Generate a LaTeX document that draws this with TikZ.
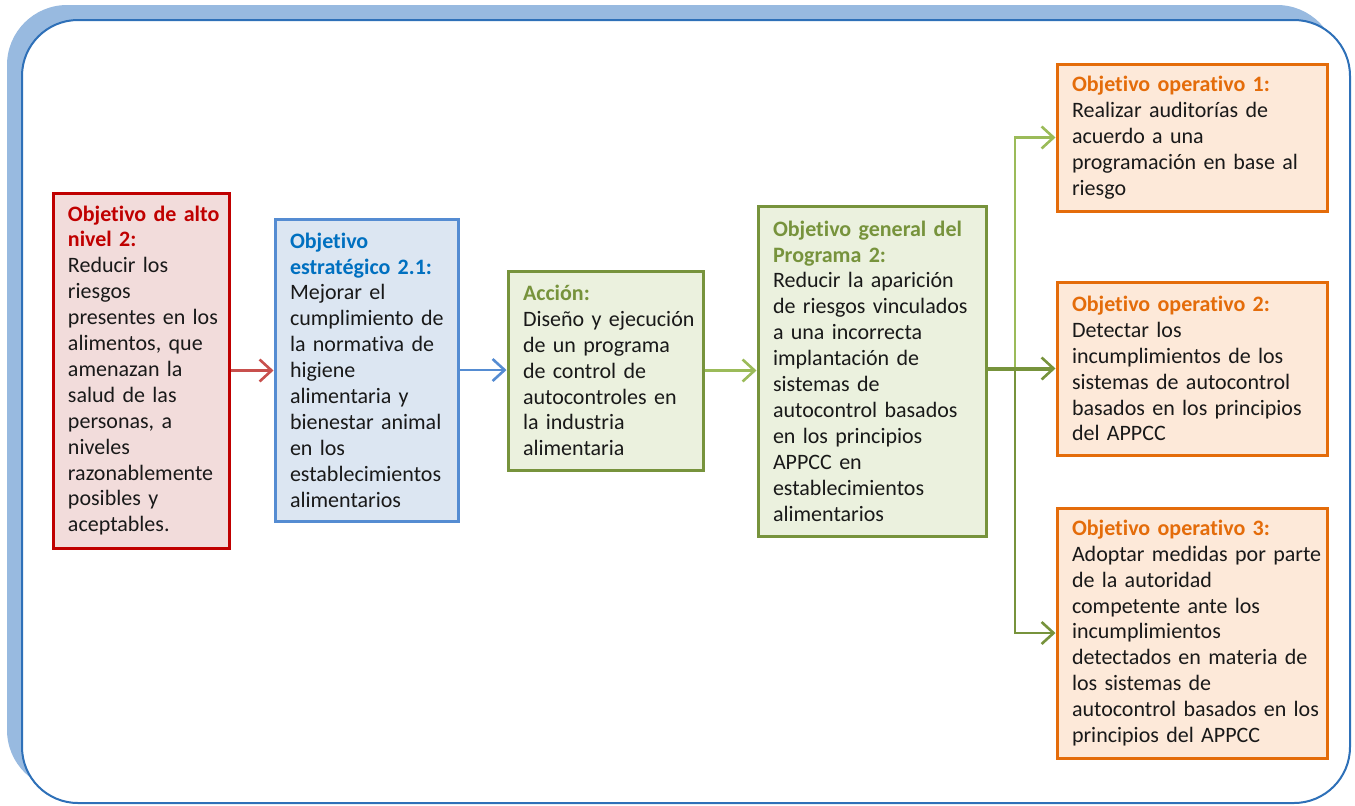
\documentclass[tikz,border=0pt]{standalone}
\usepackage{fontspec}
\setmainfont{Carlito}[Ligatures=NoCommon]
\usepackage{tikz}
\usetikzlibrary{arrows.meta}

\definecolor{banda}{RGB}{152,186,224}
\definecolor{marco}{RGB}{46,112,184}
\definecolor{rojo}{RGB}{192,0,0}
\definecolor{rojoclaro}{RGB}{242,220,219}
\definecolor{rojoflecha}{RGB}{200,80,77}
\definecolor{azul}{RGB}{0,112,192}
\definecolor{azulborde}{RGB}{85,140,210}
\definecolor{azulclaro}{RGB}{220,230,242}
\definecolor{verde}{RGB}{119,147,60}
\definecolor{verdeclaro}{RGB}{235,241,222}
\definecolor{verdeflecha}{RGB}{155,187,89}
\definecolor{naranja}{RGB}{228,108,10}
\definecolor{naranjaclaro}{RGB}{253,233,217}

\tikzset{
	caja/.style={draw, line width=1.5pt, inner xsep=7.5pt, inner ysep=0pt,
		font=\fontsize{11pt}{12.95pt}\selectfont, text=black!90,
		execute at begin node={\raggedright\rightskip=-20pt plus 1fil\parindent=0pt\hyphenpenalty=10000\relax}},
	flecha/.style={line width=1.3pt, -{Straight Barb[length=6pt,width=11pt,line width=1.3pt]}}
}

\begin{document}
\begin{tikzpicture}[x=0.5pt,y=-0.5pt]
	\useasboundingbox (0,0) rectangle (1355,805);
	\fill[banda, rounded corners=30pt] (7,5) rectangle (1337,790);
	\draw[marco, line width=1pt, fill=white, rounded corners=28pt] (22,20) rectangle (1350,803);

	\node (alto) [caja, draw=rojo, fill=rojoclaro, text width=73pt, minimum height=177.5pt] at (141,370.5)
		{\textcolor{rojo}{\textbf{Objetivo de alto\\ nivel 2:}}\\ Reducir los\\ riesgos\\ presentes en los\\ alimentos, que\\ amenazan la\\ salud de las\\ personas, a\\ niveles\\ razonablemente\\ posibles y\\ aceptables.};
	\node (estr) [caja, draw=azulborde, fill=azulclaro, text width=76.5pt, minimum height=151pt] at (366.5,370)
		{\textcolor{azul}{\textbf{Objetivo\\ estratégico 2.1:}}\\ Mejorar el\\ cumplimiento de\\ la normativa de\\ higiene\\ alimentaria y\\ bienestar animal\\ en los\\ establecimientos\\ alimentarios};
	\node (accion) [caja, draw=verde, fill=verdeclaro, text width=82.5pt, minimum height=99.5pt] at (605.5,370.5)
		{\textcolor{verde}{\textbf{Acción:}}\\ Diseño y ejecución\\ de un programa\\ de control de\\ autocontroles en\\ la industria\\ alimentaria};
	\node (general) [caja, draw=verde, fill=verdeclaro, text width=99pt, minimum height=165pt] at (872,371)
		{\textcolor{verde}{\textbf{Objetivo general del\\ Programa 2:}}\\ Reducir la aparición\\ de riesgos vinculados\\ a una incorrecta\\ implantación de\\ sistemas de\\ autocontrol basados\\ en los principios\\ APPCC en\\ establecimientos\\ alimentarios};

	\node (op1) [caja, draw=naranja, fill=naranjaclaro, text width=120pt, minimum height=73.5pt] at (1192,137.5)
		{\textcolor{naranja}{\textbf{Objetivo operativo 1:}}\\ Realizar auditorías de\\ acuerdo a una\\ programación en base al\\ riesgo};
	\node (op2) [caja, draw=naranja, fill=naranjaclaro, text width=120pt, minimum height=86.5pt] at (1192,368.5)
		{\textcolor{naranja}{\textbf{Objetivo operativo 2:}}\\ Detectar los\\ incumplimientos de los\\ sistemas de autocontrol\\ basados en los principios\\ del APPCC};
	\node (op3) [caja, draw=naranja, fill=naranjaclaro, text width=120pt, minimum height=125pt] at (1192,633)
		{\textcolor{naranja}{\textbf{Objetivo operativo 3:}}\\ Adoptar medidas por parte\\ de la autoridad\\ competente ante los\\ incumplimientos\\ detectados en materia de\\ los sistemas de\\ autocontrol basados en los\\ principios del APPCC};

	\draw[flecha, rojoflecha] (alto.east) -- (alto.east -| estr.west);
	\draw[flecha, azulborde] (estr.east) -- (estr.east -| accion.west);
	\draw[flecha, verdeflecha] (accion.east) -- (accion.east -| general.west);

	\coordinate (rama) at (1015,368.5);
	\draw[flecha, verdeflecha] (rama) |- (op1.west);
	\draw[flecha, verde] (rama) |- (op3.west);
	\draw[flecha, verde, line width=2pt] (general.east |- op2.west) -- (op2.west);
\end{tikzpicture}
\end{document}
